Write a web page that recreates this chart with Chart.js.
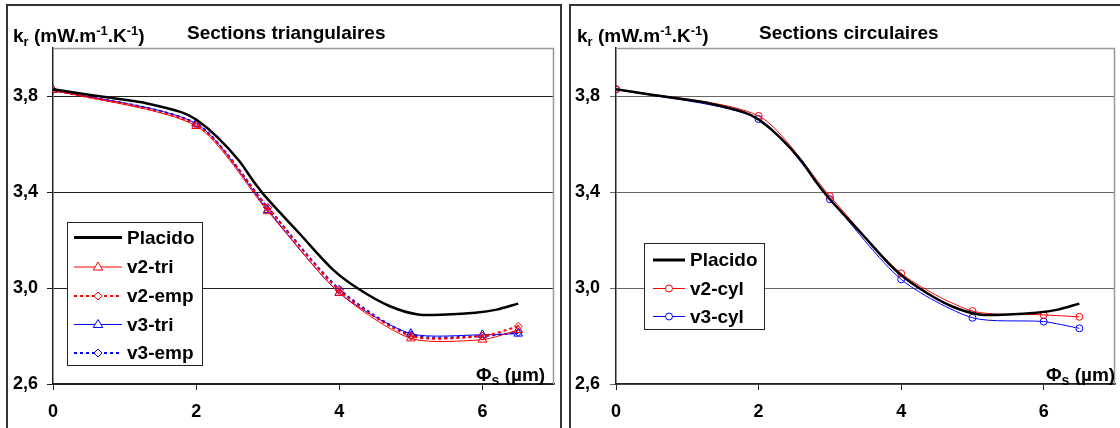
<!DOCTYPE html>
<html>
<head>
<meta charset="utf-8">
<script src="https://cdn.jsdelivr.net/npm/chart.js"></script>
<style>
  body { margin: 0; background: #fff; width: 1120px; height: 428px; overflow: hidden; position: relative;
         font-family: "Liberation Sans", Arial, sans-serif; }
  .panel { position: absolute; top: 4px; height: 500px; border: 2px solid #333; box-sizing: border-box; }
  canvas { position: absolute; top: 0; }
  .lbl { position: absolute; font-weight: bold; font-size: 19px; line-height: 19px; white-space: nowrap; color: #000; }
  .lbl sub, .lbl sup { font-size: 13px; line-height: 0; }
  .lbl sub { vertical-align: -4px; }
  .lbl sup { vertical-align: 7px; }
</style>
</head>
<body>
<div class="panel" style="left:6px;width:556px"></div>
<div class="panel" style="left:569px;width:600px"></div>

<canvas id="triChart" width="560" height="428" style="left:0"></canvas>
<canvas id="cylChart" width="560" height="428" style="left:560px"></canvas>

<div class="lbl" style="left:13px;top:26px">k<sub>r</sub> (mW.m<sup>-1</sup>.K<sup>-1</sup>)</div>
<div class="lbl" style="left:187px;top:23px">Sections triangulaires</div>
<div class="lbl" style="left:476px;top:365px">Φ<sub style="font-size:14px">s</sub> (µm)</div>

<div class="lbl" style="left:577px;top:26px">k<sub>r</sub> (mW.m<sup>-1</sup>.K<sup>-1</sup>)</div>
<div class="lbl" style="left:759px;top:23px">Sections circulaires</div>
<div class="lbl" style="left:1046px;top:365px">Φ<sub style="font-size:14px">s</sub> (µm)</div>

<script>
// axis ticks
const xTicks = [0, 2, 4, 6];
const yTicks = [2.6, 3.0, 3.4, 3.8];
const yTickLabels = ["2,6", "3,0", "3,4", "3,8"];

// Placido reference curve (same in both panels)
const placidoX = [0, 0.5, 1, 1.3, 1.8, 2, 2.3, 2.6, 2.8, 3, 3.45, 3.9, 4.25, 4.7, 5.1, 5.5, 5.9, 6.2, 6.5];
const placidoY = [3.828, 3.805, 3.784, 3.77, 3.732, 3.702, 3.628, 3.53, 3.445, 3.37, 3.225, 3.08, 3.0, 2.925, 2.89, 2.89, 2.897, 2.91, 2.935];

// model points
const phiS = [0, 2, 3, 4, 5, 6, 6.5];
const v2Tri = [3.825, 3.675, 3.32, 2.98, 2.79, 2.785, 2.825];
const v2Emp = [3.825, 3.68, 3.335, 2.99, 2.80, 2.80, 2.84];
const v3Tri = [3.825, 3.685, 3.325, 2.98, 2.81, 2.805, 2.81];
const v3Emp = [3.825, 3.685, 3.335, 2.995, 2.805, 2.80, 2.815];
const v2Cyl = [3.828, 3.717, 3.383, 3.061, 2.904, 2.888, 2.88];
const v3Cyl = [3.828, 3.704, 3.37, 3.036, 2.876, 2.86, 2.832];

const FONT = { family: "'Liberation Sans', Arial, sans-serif", size: 18, weight: "bold" };

function pts(xs, ys) {
    return xs.map((x, i) => ({ x: x, y: ys[i] }));
}

function placidoSet() {
    return { label: "Placido", data: pts(placidoX, placidoY), borderColor: "#000", borderWidth: 2.5,
             pointRadius: 0, tension: 0.3, legendWidth: 3 };
}

function modelSet(label, ys, color, style, dashed) {
    return {
        label: label, data: pts(phiS, ys), borderColor: color, borderWidth: dashed ? 2 : 1,
        borderDash: dashed ? [3, 3] : [], tension: 0.25,
        pointStyle: style, pointRadius: style == "circle" ? 3.5 : (style == "triangle" ? 5 : 4),
        pointBorderColor: color, pointBackgroundColor: "rgba(0,0,0,0)", pointBorderWidth: 1
    };
}

// draws a small marker for the legend
function marker(ctx, style, x, y, r) {
    ctx.beginPath();
    if (style == "triangle") {
        ctx.moveTo(x, y - r);
        ctx.lineTo(x + r * 0.95, y + r * 0.6);
        ctx.lineTo(x - r * 0.95, y + r * 0.6);
        ctx.closePath();
    } else if (style == "rectRot") {
        ctx.moveTo(x, y - r); ctx.lineTo(x + r, y); ctx.lineTo(x, y + r); ctx.lineTo(x - r, y);
        ctx.closePath();
    } else {
        ctx.arc(x, y, r, 0, Math.PI * 2);
    }
    ctx.fillStyle = "#fff";
    ctx.fill();
    ctx.stroke();
}

//grey top/right frame of the plot area + boxed legend
const frameLegend = {
    id: "frameLegend",
    beforeDatasetsDraw(chart, args, o) {
        const a = chart.chartArea, ctx = chart.ctx;
        ctx.save();
        ctx.strokeStyle = o.frameColor;
        ctx.lineWidth = 1.5;
        ctx.beginPath();
        ctx.moveTo(a.left, a.top + 0.5);
        ctx.lineTo(a.right - 0.5, a.top + 0.5);
        ctx.lineTo(a.right - 0.5, a.bottom);
        ctx.stroke();
        ctx.restore();
    },
    afterDraw(chart, args, o) {
        const ctx = chart.ctx, b = o.box;
        ctx.save();
        ctx.fillStyle = "#fff";
        ctx.fillRect(b[0], b[1], b[2], b[3]);
        ctx.strokeStyle = "#222";
        ctx.lineWidth = 1;
        ctx.strokeRect(b[0] + 0.5, b[1] + 0.5, b[2], b[3]);
        chart.data.datasets.forEach((ds, i) => {
            const y = o.rows[i];
            ctx.strokeStyle = ds.borderColor;
            ctx.lineWidth = ds.legendWidth || ds.borderWidth;
            ctx.setLineDash(ds.borderDash || []);
            ctx.beginPath();
            ctx.moveTo(o.lineFrom, y);
            ctx.lineTo(o.lineTo, y);
            ctx.stroke();
            ctx.setLineDash([]);
            if (ds.pointRadius) {
                ctx.lineWidth = 1;
                marker(ctx, ds.pointStyle, (o.lineFrom + o.lineTo) / 2, y, ds.pointRadius);
            }
            ctx.fillStyle = "#000";
            ctx.font = "bold 19px 'Liberation Sans', Arial, sans-serif";
            ctx.textBaseline = "middle";
            ctx.fillText(ds.label, o.textX, y + 1);
        });
        ctx.restore();
    }
};

function makeChart(id, datasets, axisW, padRight, tickPad, gridColor, legendOpts) {
    return new Chart(document.getElementById(id), {
        type: "line",
        data: { datasets: datasets },
        options: {
            responsive: false,
            animation: false,
            devicePixelRatio: 1,
            layout: { padding: { top: 48, right: padRight, left: 0, bottom: 0 } },
            plugins: { legend: { display: false }, tooltip: { enabled: false }, frameLegend: legendOpts },
            scales: {
                x: {
                    type: "linear", min: 0, max: 7,
                    afterBuildTicks: s => { s.ticks = xTicks.map(v => ({ value: v })); },
                    afterFit: s => { s.height = 44; },
                    grid: { drawOnChartArea: false, drawTicks: true, tickLength: 6, color: "#222" },
                    border: { color: "#222", width: 1.5 },
                    ticks: { font: FONT, color: "#000", padding: 11, maxRotation: 0 }
                },
                y: {
                    type: "linear", min: 2.6, max: 4.0,
                    afterBuildTicks: s => { s.ticks = yTicks.map(v => ({ value: v })); },
                    afterFit: s => { s.width = axisW; },
                    grid: { drawTicks: true, tickLength: 6, color: gridColor, lineWidth: 1 },
                    border: { color: "#222", width: 1.5 },
                    ticks: { font: FONT, color: "#000", padding: tickPad,
                             callback: v => yTickLabels[yTicks.indexOf(v)] }
                }
            }
        },
        plugins: [frameLegend]
    });
}

makeChart("triChart", [
    placidoSet(),
    modelSet("v2-tri", v2Tri, "#ff0000", "triangle", false),
    modelSet("v2-emp", v2Emp, "#ff0000", "rectRot", true),
    modelSet("v3-tri", v3Tri, "#0000ff", "triangle", false),
    modelSet("v3-emp", v3Emp, "#0000ff", "rectRot", true)
], 53, 5, 9, "#222", {
    frameColor: "#999", box: [67, 222, 135, 143], rows: [237.5, 267, 296, 324.5, 353],
    lineFrom: 74, lineTo: 122, textX: 127
});

makeChart("cylChart", [
    placidoSet(),
    modelSet("v2-cyl", v2Cyl, "#ff0000", "circle", false),
    modelSet("v3-cyl", v3Cyl, "#0000ff", "circle", false)
], 56, 3, 10, "#666", {
    frameColor: "#999", box: [84, 243, 120, 86], rows: [260, 288.5, 316.5],
    lineFrom: 93, lineTo: 125, textX: 130
});
</script>
</body>
</html>
